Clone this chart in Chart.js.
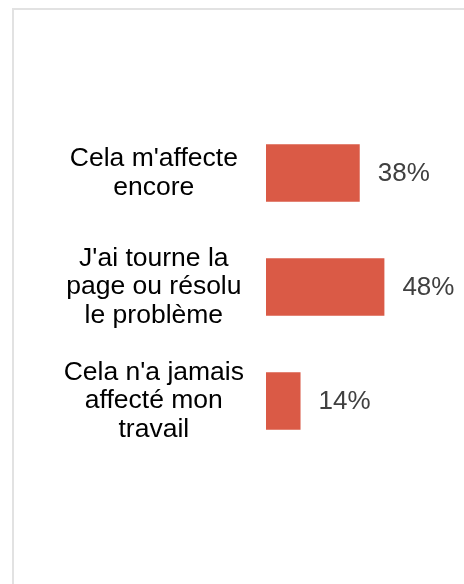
<!DOCTYPE html>
<html lang="fr">
<head>
    <meta charset="UTF-8">
    <title>Impact</title>
    <script src="https://cdn.jsdelivr.net/npm/chart.js"></script>
    <style>
        html, body { margin: 0; padding: 0; background: #fff; overflow: hidden; }
        .frame {
            position: absolute; left: 12px; top: 8px;
            width: 520px; height: 640px;
            border: 2px solid #e2e2e2;
        }
        .wrap { position: absolute; left: 0; top: 0; width: 464px; height: 584px; }
    </style>
</head>
<body>
    <div class="frame"></div>
    <div class="wrap"><canvas id="chart" width="464" height="584"></canvas></div>

    <script>
        // data
        const categories = [
            ["Cela m'affecte", "encore"],
            ["J'ai tourne la", "page ou résolu", "le problème"],
            ["Cela n'a jamais", "affecté mon", "travail"]
        ];
        const values = [38, 48, 14];
        const valueLabels = ['38%', '48%', '14%'];

        // draws the percentage text right of each bar
        const valueLabelPlugin = {
            id: 'valueLabels',
            afterDatasetsDraw(chart) {
                const ctx = chart.ctx;
                const meta = chart.getDatasetMeta(0);
                ctx.save();
                ctx.font = '26px "Liberation Sans", Arial, sans-serif';
                ctx.fillStyle = '#404040';
                ctx.textAlign = 'left';
                ctx.textBaseline = 'middle';
                meta.data.forEach(function(bar, i) {
                    ctx.fillText(valueLabels[i], bar.x + 18, bar.y + 1);
                });
                ctx.restore();
            }
        };

        const ctx = document.getElementById('chart').getContext('2d');
        const chart = new Chart(ctx, {
            type: 'bar',
            data: {
                labels: categories,
                datasets: [{
                    data: values,
                    backgroundColor: '#da5a46',
                    borderWidth: 0,
                    categoryPercentage: 1,
                    barPercentage: 0.506
                }]
            },
            options: {
                indexAxis: 'y',
                responsive: false,
                animation: false,
                layout: {
                    padding: { top: 116, bottom: 126, left: 0, right: 50 }
                },
                plugins: {
                    legend: { display: false },
                    tooltip: { enabled: false }
                },
                scales: {
                    x: {
                        display: false,
                        min: 0,
                        max: 60
                    },
                    y: {
                        grid: { display: false, drawTicks: false },
                        border: { display: false },
                        ticks: {
                            color: '#000',
                            crossAlign: 'center',
                            padding: 22,
                            font: { family: '"Liberation Sans", Arial, sans-serif', size: 26.5, lineHeight: 1.075 }
                        },
                        afterFit(scale) {
                            scale.width = 266;
                        }
                    }
                }
            },
            plugins: [valueLabelPlugin]
        });
    </script>
</body>
</html>
